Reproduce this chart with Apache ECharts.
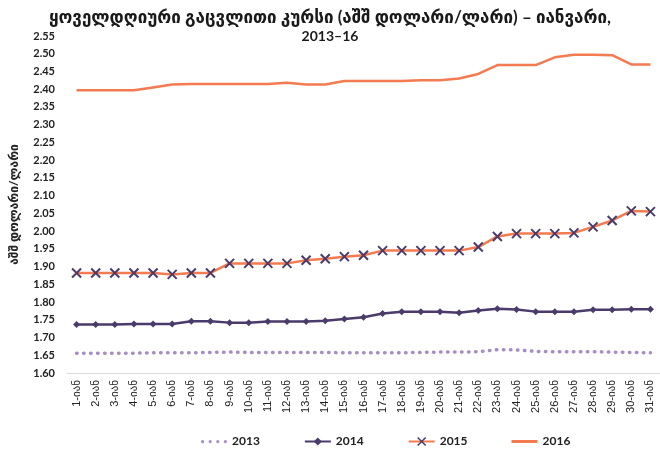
<!DOCTYPE html>
<html>
<head>
<meta charset="utf-8">
<script src="https://cdn.jsdelivr.net/npm/echarts@6/dist/echarts.min.js"></script>
<style>
  html, body { margin: 0; padding: 0; background: #fff; }
  #chart { width: 660px; height: 457px; }
</style>
</head>
<body>
<div id="chart"></div>
<script>
// days of January
var days = [];
for (var d = 1; d <= 31; d++) { days.push(d + '-იან'); }

var rate2013 = [1.656, 1.656, 1.656, 1.656, 1.657, 1.657, 1.657, 1.658, 1.659, 1.658,
                1.658, 1.658, 1.658, 1.658, 1.657, 1.657, 1.657, 1.657, 1.658, 1.659,
                1.659, 1.660, 1.666, 1.665, 1.661, 1.660, 1.660, 1.660, 1.659, 1.658, 1.657];
var rate2014 = [1.737, 1.737, 1.737, 1.738, 1.738, 1.738, 1.746, 1.746, 1.742, 1.742,
                1.745, 1.745, 1.745, 1.747, 1.752, 1.757, 1.768, 1.773, 1.773, 1.773,
                1.770, 1.776, 1.781, 1.779, 1.773, 1.773, 1.773, 1.778, 1.778, 1.780, 1.780];
var rate2015 = [1.882, 1.882, 1.882, 1.882, 1.882, 1.878, 1.882, 1.882, 1.909, 1.909,
                1.909, 1.909, 1.918, 1.922, 1.928, 1.932, 1.945, 1.945, 1.945, 1.945,
                1.945, 1.955, 1.985, 1.993, 1.993, 1.993, 1.995, 2.012, 2.030, 2.057, 2.055];
var rate2016 = [2.397, 2.397, 2.397, 2.397, 2.405, 2.413, 2.415, 2.415, 2.415, 2.415,
                2.415, 2.418, 2.413, 2.413, 2.423, 2.423, 2.423, 2.423, 2.425, 2.425,
                2.430, 2.443, 2.468, 2.468, 2.468, 2.490, 2.497, 2.497, 2.496, 2.470, 2.470];

var ORANGE = '#f47a4f', DARK = '#4a3b6b', LIGHT = '#a58dc6';
var FONT = 'Lato, "DejaVu Sans", sans-serif';

// legend icons for the plain / dotted lines
var dotsIcon = 'path://M1.5,0a1.5,1.5 0 1,0 0.01,0zM8.5,0a1.5,1.5 0 1,0 0.01,0zM15.5,0a1.5,1.5 0 1,0 0.01,0zM22.5,0a1.5,1.5 0 1,0 0.01,0z';
var barIcon = 'path://M0,0L26,0L26,3L0,3Z';

var chart = echarts.init(document.getElementById('chart'));
chart.setOption({
    animation: false,
    title: {
        text: '{a|ყოველდღიური გაცვლითი კურსი (აშშ დოლარი/ლარი) – იანვარი,}\n{b|2013–16}',
        left: 'center',
        top: 3,
        padding: [5, 0, 5, 14],
        textStyle: {
            rich: {
                a: { fontFamily: FONT, fontSize: 17, fontWeight: 'bold', color: '#1a1a1a', lineHeight: 19 },
                b: { fontFamily: FONT, fontSize: 14, fontWeight: 'bold', color: '#1a1a1a', lineHeight: 18 }
            }
        }
    },
    legend: {
        bottom: 4,
        left: 196,
        itemGap: 44,
        itemWidth: 26,
        itemHeight: 10,
        textStyle: { fontFamily: FONT, fontSize: 12, fontWeight: 'bold', color: '#222' },
        data: [
            { name: '2013', icon: dotsIcon, itemStyle: { color: LIGHT } },
            { name: '2014' },
            { name: '2015', itemStyle: { borderWidth: 1.5 } },
            { name: '2016', icon: barIcon, itemStyle: { color: ORANGE } }
        ]
    },
    grid: { left: 62, right: 0, top: 36, bottom: 84 },
    xAxis: {
        type: 'category',
        data: days,
        boundaryGap: true,
        axisLine: { lineStyle: { color: '#d9d9d9', width: 1 } },
        axisTick: { show: false },
        axisLabel: { rotate: 90, interval: 0, margin: 7, fontFamily: '"Liberation Sans", "DejaVu Sans", sans-serif', fontSize: 11, color: '#222' }
    },
    yAxis: {
        type: 'value',
        min: 1.60,
        max: 2.55,
        interval: 0.05,
        name: 'აშშ დოლარი/ლარი',
        nameLocation: 'middle',
        nameGap: 47,
        nameTextStyle: { fontFamily: FONT, fontSize: 12, fontWeight: 'bold', color: '#222' },
        axisLine: { show: false },
        axisTick: { show: false },
        splitLine: { show: false },
        axisLabel: {
            margin: 12,
            fontFamily: FONT, fontSize: 11, fontWeight: 'bold', color: '#222',
            formatter: function (v) { return v.toFixed(2); }
        }
    },
    series: [
        {
            name: '2013', type: 'line', data: rate2013,
            showSymbol: false, symbol: 'none',
            lineStyle: { color: LIGHT, width: 3.5, type: [0.5, 6.5], cap: 'round' },
            itemStyle: { color: LIGHT }
        },
        {
            name: '2014', type: 'line', data: rate2014,
            symbol: 'diamond', symbolSize: 7,
            lineStyle: { color: DARK, width: 2.5 },
            itemStyle: { color: DARK }
        },
        {
            name: '2015', type: 'line', data: rate2015,
            symbol: 'path://M0,0L10,10M10,0L0,10', symbolSize: 9,
            lineStyle: { color: ORANGE, width: 2.5 },
            itemStyle: { color: 'none', borderColor: DARK, borderWidth: 2 }
        },
        {
            name: '2016', type: 'line', data: rate2016,
            symbol: 'none',
            lineStyle: { color: ORANGE, width: 2.5 },
            itemStyle: { color: ORANGE }
        }
    ]
});
</script>
</body>
</html>
